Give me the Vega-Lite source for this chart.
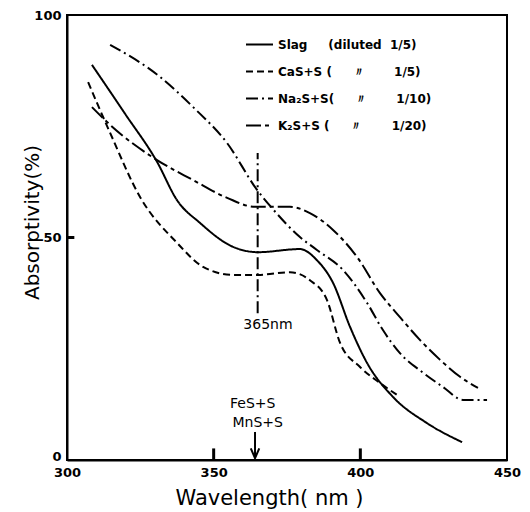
{
  "$schema": "https://vega.github.io/schema/vega-lite/v6.json",
  "width": 440,
  "height": 445,
  "autosize": "none",
  "padding": {"left": 67, "top": 15, "right": 23, "bottom": 52},
  "background": "white",
  "config": {
    "view": {"stroke": "black", "strokeWidth": 2},
    "font": "DejaVu Sans",
    "axis": {"grid": false, "domainColor": "black", "domainWidth": 2, "ticks": false, "labelColor": "black", "titleColor": "black", "labelFont": "DejaVu Sans", "titleFont": "DejaVu Sans"}
  },
  "datasets": {
    "curves": [
      {"series": "Slag", "wl": 308.5, "abs": 88.8},
      {"series": "Slag", "wl": 319.8, "abs": 77.8},
      {"series": "Slag", "wl": 330.7, "abs": 67.0},
      {"series": "Slag", "wl": 337.5, "abs": 58.4},
      {"series": "Slag", "wl": 345.3, "abs": 53.3},
      {"series": "Slag", "wl": 356.6, "abs": 47.9},
      {"series": "Slag", "wl": 365.1, "abs": 46.7},
      {"series": "Slag", "wl": 379.4, "abs": 47.4},
      {"series": "Slag", "wl": 385.2, "abs": 44.9},
      {"series": "Slag", "wl": 390.7, "abs": 39.8},
      {"series": "Slag", "wl": 396.5, "abs": 29.9},
      {"series": "Slag", "wl": 402.3, "abs": 21.8},
      {"series": "Slag", "wl": 411.1, "abs": 14.2},
      {"series": "Slag", "wl": 422.7, "abs": 8.3},
      {"series": "Slag", "wl": 434.7, "abs": 4.0},
      {"series": "CaS", "wl": 307.2, "abs": 84.9},
      {"series": "CaS", "wl": 314.7, "abs": 73.5},
      {"series": "CaS", "wl": 324.9, "abs": 59.1},
      {"series": "CaS", "wl": 337.5, "abs": 48.8},
      {"series": "CaS", "wl": 346.4, "abs": 43.4},
      {"series": "CaS", "wl": 356.6, "abs": 41.6},
      {"series": "CaS", "wl": 365.1, "abs": 41.6},
      {"series": "CaS", "wl": 376.0, "abs": 42.2},
      {"series": "CaS", "wl": 382.8, "abs": 40.4},
      {"series": "CaS", "wl": 388.6, "abs": 36.0},
      {"series": "CaS", "wl": 393.1, "abs": 26.3},
      {"series": "CaS", "wl": 399.9, "abs": 20.9},
      {"series": "CaS", "wl": 406.7, "abs": 17.3},
      {"series": "CaS", "wl": 413.5, "abs": 14.2},
      {"series": "Na2S", "wl": 314.7, "abs": 93.3},
      {"series": "Na2S", "wl": 331.7, "abs": 86.1},
      {"series": "Na2S", "wl": 343.0, "abs": 79.3},
      {"series": "Na2S", "wl": 354.6, "abs": 71.2},
      {"series": "Na2S", "wl": 364.8, "abs": 60.7},
      {"series": "Na2S", "wl": 369.9, "abs": 56.6},
      {"series": "Na2S", "wl": 379.4, "abs": 50.1},
      {"series": "Na2S", "wl": 385.2, "abs": 47.2},
      {"series": "Na2S", "wl": 394.1, "abs": 42.7},
      {"series": "Na2S", "wl": 402.3, "abs": 35.3},
      {"series": "Na2S", "wl": 407.7, "abs": 29.2},
      {"series": "Na2S", "wl": 413.5, "abs": 24.0},
      {"series": "Na2S", "wl": 421.4, "abs": 19.6},
      {"series": "Na2S", "wl": 428.2, "abs": 16.4},
      {"series": "Na2S", "wl": 435.0, "abs": 13.5},
      {"series": "Na2S", "wl": 443.2, "abs": 13.5},
      {"series": "K2S", "wl": 308.5, "abs": 79.3},
      {"series": "K2S", "wl": 314.7, "abs": 75.3},
      {"series": "K2S", "wl": 330.7, "abs": 67.4},
      {"series": "K2S", "wl": 343.0, "abs": 62.9},
      {"series": "K2S", "wl": 354.6, "abs": 58.9},
      {"series": "K2S", "wl": 364.1, "abs": 56.9},
      {"series": "K2S", "wl": 376.0, "abs": 56.9},
      {"series": "K2S", "wl": 382.8, "abs": 55.5},
      {"series": "K2S", "wl": 390.7, "abs": 51.7},
      {"series": "K2S", "wl": 398.9, "abs": 45.6},
      {"series": "K2S", "wl": 406.7, "abs": 37.5},
      {"series": "K2S", "wl": 413.5, "abs": 32.1},
      {"series": "K2S", "wl": 420.3, "abs": 27.0},
      {"series": "K2S", "wl": 427.2, "abs": 22.5},
      {"series": "K2S", "wl": 434.0, "abs": 18.7},
      {"series": "K2S", "wl": 440.1, "abs": 16.2}
    ],
    "marker": [{"wl": 365, "lo": 33, "hi": 69}],
    "arrow": [{"wl": 364.1, "lo": 0.4, "hi": 6.3}],
    "xticks": [{"wl": 350, "lo": 0, "hi": 2.6}, {"wl": 400, "lo": 0, "hi": 2.6}],
    "yticks": [{"abs": 50, "lo": 300, "hi": 302.5}],
    "notes": [
      {"wl": 368.5, "abs": 30.3, "text": "365nm"},
      {"wl": 363.3, "abs": 12.6, "text": "FeS+S"},
      {"wl": 365.0, "abs": 8.3, "text": "MnS+S"}
    ]
  },
  "layer": [
    {
      "data": {"name": "curves"},
      "mark": {"type": "line", "interpolate": "monotone", "color": "black", "strokeWidth": 2},
      "encoding": {
        "x": {"field": "wl", "type": "quantitative", "scale": {"domain": [300, 450], "nice": false, "zero": false},
          "axis": {"values": [300, 350, 400, 450], "title": "Wavelength( nm )", "titleFontSize": 21, "titleFontWeight": "normal", "titleX": 202, "titleY": 44, "titleBaseline": "alphabetic", "titleAlign": "center", "labelFontSize": 13, "labelFontWeight": "bold", "labelPadding": 6, "labelFlush": false}},
        "y": {"field": "abs", "type": "quantitative", "scale": {"domain": [0, 100], "nice": false},
          "axis": {"values": [0, 50, 100], "title": "Absorptivity(%)", "titleFontSize": 20, "titleFontWeight": "normal", "titleX": -35, "titleY": 207, "titleAlign": "center", "titleBaseline": "middle", "labelFontSize": 13, "labelFontWeight": "bold", "labelPadding": 6,
            "labelBaseline": {"expr": "datum.value == 0 ? 'alphabetic' : 'middle'"}}},
        "strokeDash": {"field": "series", "type": "nominal",
          "scale": {"domain": ["Slag", "CaS", "Na2S", "K2S"], "range": [[1, 0], [7, 4], [12, 4, 2, 4], [15, 4, 4, 4]]},
          "legend": {"orient": "none", "legendX": 178, "legendY": 15, "title": null, "symbolType": "stroke", "symbolStrokeColor": "black", "symbolStrokeWidth": 2, "symbolSize": 729, "labelFontSize": 12, "labelFontWeight": "bold", "labelColor": "black", "rowPadding": 6, "padding": 0, "labelOffset": 4,
            "labelExpr": "datum.label == 'Slag' ? 'Slag\u00a0\u00a0\u00a0\u00a0\u00a0(diluted\u00a0\u00a01/5)' : datum.label == 'CaS' ? 'CaS+S\u00a0(\u00a0\u00a0\u00a0\u00a0\u00a0\u3003\u00a0\u00a0\u00a0\u00a0\u00a0\u00a0\u00a01/5)' : datum.label == 'Na2S' ? 'Na\u2082S+S(\u00a0\u00a0\u00a0\u00a0\u00a0\u3003\u00a0\u00a0\u00a0\u00a0\u00a0\u00a0\u00a01/10)' : 'K\u2082S+S\u00a0(\u00a0\u00a0\u00a0\u00a0\u00a0\u3003\u00a0\u00a0\u00a0\u00a0\u00a0\u00a0\u00a01/20)'"}
        }
      }
    },
    {
      "data": {"name": "marker"},
      "mark": {"type": "rule", "color": "black", "strokeWidth": 2, "strokeDash": [12, 4, 2, 4]},
      "encoding": {
        "x": {"field": "wl", "type": "quantitative"},
        "y": {"field": "lo", "type": "quantitative"},
        "y2": {"field": "hi"}
      }
    },
    {
      "data": {"name": "arrow"},
      "mark": {"type": "rule", "color": "black", "strokeWidth": 2},
      "encoding": {
        "x": {"field": "wl", "type": "quantitative"},
        "y": {"field": "lo", "type": "quantitative"},
        "y2": {"field": "hi"}
      }
    },
    {
      "data": {"name": "xticks"},
      "mark": {"type": "rule", "color": "black", "strokeWidth": 3},
      "encoding": {
        "x": {"field": "wl", "type": "quantitative"},
        "y": {"field": "lo", "type": "quantitative"},
        "y2": {"field": "hi"}
      }
    },
    {
      "data": {"name": "yticks"},
      "mark": {"type": "rule", "color": "black", "strokeWidth": 3},
      "encoding": {
        "y": {"field": "abs", "type": "quantitative"},
        "x": {"field": "lo", "type": "quantitative"},
        "x2": {"field": "hi"}
      }
    },
    {
      "data": {"name": "arrow"},
      "mark": {"type": "point", "shape": "M-0.6,-1.4L0,0L0.6,-1.4", "filled": false, "stroke": "black", "strokeWidth": 2, "opacity": 1, "size": 200},
      "encoding": {
        "x": {"field": "wl", "type": "quantitative"},
        "y": {"field": "lo", "type": "quantitative"}
      }
    },
    {
      "data": {"name": "notes"},
      "mark": {"type": "text", "color": "black", "fontSize": 14, "fontWeight": "normal", "font": "DejaVu Sans", "align": "center", "baseline": "middle"},
      "encoding": {
        "x": {"field": "wl", "type": "quantitative"},
        "y": {"field": "abs", "type": "quantitative"},
        "text": {"field": "text"}
      }
    }
  ]
}
